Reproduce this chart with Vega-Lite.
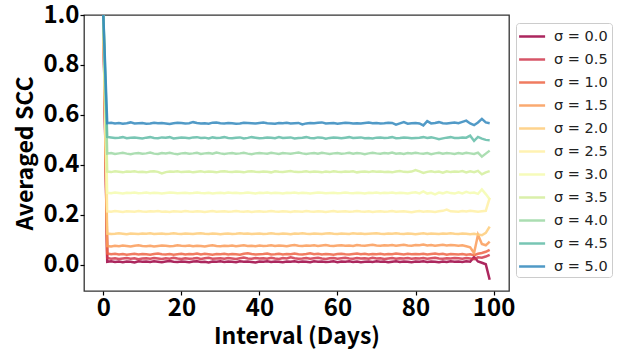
{
  "$schema": "https://vega.github.io/schema/vega-lite/v6.json",
  "width": 425,
  "height": 276,
  "autosize": {"type": "none"},
  "padding": {"left": 84, "top": 15, "right": 110, "bottom": 63},
  "background": "white",
  "config": {
    "view": {"stroke": "#333333", "strokeWidth": 1.3},
    "axis": {
      "grid": false, "domain": false, "tickColor": "black", "tickSize": 4, "tickWidth": 1.2,
      "labelFont": "Noto Sans CJK JP", "labelFontSize": 24, "labelFontWeight": "bold", "labelColor": "black",
      "titleFont": "Noto Sans CJK JP", "titleFontSize": 23, "titleFontWeight": "bold", "titleColor": "black"
    },
    "legend": {
      "orient": "none", "legendX": 432, "legendY": 8, "strokeColor": "#cccccc", "fillColor": "white",
      "padding": 4, "cornerRadius": 3, "symbolType": "M-1.3,0H1.95", "symbolSize": 256, "symbolStrokeWidth": 2.5,
      "rowPadding": 7, "labelOffset": 15, "labelFont": "DejaVu Sans", "labelFontSize": 14.5, "labelColor": "#222222"
    }
  },
  "data": {"values": [
    {"s": "σ = 0.0", "x": [0,1,2,3,4,5,6,7,8,9,10,11,12,13,14,15,16,17,18,19,20,21,22,23,24,25,26,27,28,29,30,31,32,33,34,35,36,37,38,39,40,41,42,43,44,45,46,47,48,49,50,51,52,53,54,55,56,57,58,59,60,61,62,63,64,65,66,67,68,69,70,71,72,73,74,75,76,77,78,79,80,81,82,83,84,85,86,87,88,89,90,91,92,93,94,95,96,97,98,99],
     "v": [1,0.012,0.014,0.011,0.013,0.010,0.013,0.012,0.009,0.014,0.012,0.013,0.011,0.014,0.012,0.010,0.013,0.015,0.012,0.011,0.013,0.012,0.010,0.013,0.014,0.011,0.012,0.009,0.013,0.012,0.014,0.011,0.013,0.012,0.010,0.014,0.012,0.013,0.011,0.009,0.013,0.012,0.014,0.011,0.013,0.012,0.010,0.013,0.012,0.014,0.011,0.013,0.012,0.010,0.014,0.012,0.013,0.011,0.012,0.014,0.010,0.013,0.012,0.014,0.011,0.013,0.010,0.012,0.013,0.011,0.014,0.012,0.013,0.010,0.012,0.014,0.011,0.013,0.012,0.010,0.013,0.012,0.014,0.011,0.013,0.012,0.010,0.013,0.011,0.014,0.012,0.013,0.011,0.014,0.012,0.031,0.013,0.008,0.002,-0.060]},
    {"s": "σ = 0.5", "x": [0,1,2,3,4,5,6,7,8,9,10,11,12,13,14,15,16,17,18,19,20,21,22,23,24,25,26,27,28,29,30,31,32,33,34,35,36,37,38,39,40,41,42,43,44,45,46,47,48,49,50,51,52,53,54,55,56,57,58,59,60,61,62,63,64,65,66,67,68,69,70,71,72,73,74,75,76,77,78,79,80,81,82,83,84,85,86,87,88,89,90,91,92,93,94,95,96,97,98,99],
     "v": [1,0.027,0.024,0.026,0.023,0.025,0.027,0.024,0.026,0.022,0.025,0.026,0.024,0.027,0.025,0.023,0.026,0.024,0.028,0.025,0.023,0.026,0.024,0.025,0.027,0.023,0.026,0.028,0.024,0.025,0.026,0.024,0.027,0.025,0.023,0.026,0.029,0.025,0.024,0.027,0.025,0.026,0.024,0.028,0.025,0.023,0.027,0.025,0.030,0.026,0.024,0.025,0.027,0.024,0.026,0.028,0.025,0.023,0.026,0.027,0.024,0.026,0.028,0.025,0.024,0.027,0.025,0.026,0.024,0.028,0.025,0.026,0.023,0.025,0.027,0.024,0.026,0.025,0.027,0.024,0.026,0.025,0.027,0.024,0.026,0.028,0.025,0.024,0.026,0.025,0.027,0.026,0.024,0.027,0.025,0.022,0.030,0.028,0.033,0.040]},
    {"s": "σ = 1.0", "x": [0,1,2,3,4,5,6,7,8,9,10,11,12,13,14,15,16,17,18,19,20,21,22,23,24,25,26,27,28,29,30,31,32,33,34,35,36,37,38,39,40,41,42,43,44,45,46,47,48,49,50,51,52,53,54,55,56,57,58,59,60,61,62,63,64,65,66,67,68,69,70,71,72,73,74,75,76,77,78,79,80,81,82,83,84,85,86,87,88,89,90,91,92,93,94,95,96,97,98,99],
     "v": [1,0.045,0.042,0.044,0.041,0.043,0.040,0.042,0.044,0.041,0.043,0.042,0.040,0.043,0.045,0.042,0.041,0.043,0.040,0.042,0.044,0.041,0.043,0.042,0.045,0.041,0.044,0.042,0.040,0.043,0.042,0.044,0.041,0.043,0.042,0.040,0.044,0.046,0.043,0.041,0.042,0.043,0.045,0.041,0.042,0.044,0.041,0.043,0.042,0.045,0.042,0.041,0.043,0.046,0.042,0.044,0.041,0.043,0.042,0.040,0.043,0.044,0.042,0.041,0.043,0.045,0.042,0.044,0.041,0.043,0.042,0.044,0.041,0.043,0.042,0.045,0.043,0.041,0.044,0.042,0.043,0.042,0.044,0.041,0.043,0.045,0.042,0.044,0.040,0.043,0.042,0.041,0.043,0.040,0.042,0.038,0.044,0.047,0.052,0.060]},
    {"s": "σ = 1.5", "x": [0,1,2,3,4,5,6,7,8,9,10,11,12,13,14,15,16,17,18,19,20,21,22,23,24,25,26,27,28,29,30,31,32,33,34,35,36,37,38,39,40,41,42,43,44,45,46,47,48,49,50,51,52,53,54,55,56,57,58,59,60,61,62,63,64,65,66,67,68,69,70,71,72,73,74,75,76,77,78,79,80,81,82,83,84,85,86,87,88,89,90,91,92,93,94,95,96,97,98,99],
     "v": [1,0.075,0.073,0.076,0.074,0.077,0.075,0.073,0.076,0.078,0.075,0.074,0.076,0.073,0.075,0.077,0.076,0.074,0.075,0.078,0.076,0.075,0.077,0.074,0.076,0.075,0.073,0.076,0.078,0.075,0.074,0.076,0.075,0.077,0.074,0.076,0.078,0.075,0.076,0.074,0.077,0.075,0.076,0.078,0.075,0.077,0.076,0.074,0.077,0.079,0.076,0.075,0.077,0.076,0.078,0.075,0.077,0.079,0.076,0.075,0.077,0.078,0.076,0.077,0.075,0.079,0.077,0.076,0.078,0.080,0.077,0.076,0.078,0.077,0.079,0.076,0.078,0.080,0.077,0.076,0.079,0.078,0.081,0.077,0.079,0.076,0.078,0.080,0.077,0.079,0.078,0.076,0.078,0.074,0.070,0.047,0.120,0.083,0.078,0.093]},
    {"s": "σ = 2.0", "x": [0,1,2,3,4,5,6,7,8,9,10,11,12,13,14,15,16,17,18,19,20,21,22,23,24,25,26,27,28,29,30,31,32,33,34,35,36,37,38,39,40,41,42,43,44,45,46,47,48,49,50,51,52,53,54,55,56,57,58,59,60,61,62,63,64,65,66,67,68,69,70,71,72,73,74,75,76,77,78,79,80,81,82,83,84,85,86,87,88,89,90,91,92,93,94,95,96,97,98,99],
     "v": [1,0.125,0.123,0.124,0.126,0.124,0.122,0.125,0.124,0.123,0.125,0.124,0.126,0.123,0.124,0.125,0.123,0.124,0.126,0.124,0.123,0.125,0.124,0.123,0.125,0.126,0.124,0.123,0.125,0.124,0.122,0.124,0.125,0.123,0.124,0.126,0.124,0.125,0.123,0.124,0.125,0.123,0.124,0.126,0.124,0.123,0.125,0.124,0.122,0.125,0.124,0.126,0.124,0.123,0.125,0.124,0.123,0.125,0.126,0.124,0.123,0.125,0.124,0.123,0.126,0.124,0.125,0.123,0.124,0.125,0.126,0.124,0.123,0.125,0.124,0.126,0.124,0.123,0.125,0.124,0.122,0.124,0.126,0.123,0.125,0.124,0.123,0.125,0.124,0.126,0.124,0.123,0.125,0.124,0.122,0.124,0.121,0.118,0.128,0.153]},
    {"s": "σ = 2.5", "x": [0,1,2,3,4,5,6,7,8,9,10,11,12,13,14,15,16,17,18,19,20,21,22,23,24,25,26,27,28,29,30,31,32,33,34,35,36,37,38,39,40,41,42,43,44,45,46,47,48,49,50,51,52,53,54,55,56,57,58,59,60,61,62,63,64,65,66,67,68,69,70,71,72,73,74,75,76,77,78,79,80,81,82,83,84,85,86,87,88,89,90,91,92,93,94,95,96,97,98,99],
     "v": [1,0.214,0.212,0.215,0.213,0.211,0.214,0.213,0.212,0.215,0.213,0.212,0.214,0.213,0.215,0.212,0.213,0.211,0.214,0.213,0.212,0.215,0.213,0.212,0.214,0.213,0.211,0.213,0.215,0.212,0.213,0.214,0.212,0.213,0.215,0.213,0.212,0.214,0.211,0.213,0.214,0.212,0.213,0.215,0.213,0.212,0.214,0.213,0.211,0.214,0.213,0.212,0.215,0.213,0.212,0.214,0.213,0.211,0.213,0.215,0.212,0.213,0.214,0.212,0.213,0.215,0.213,0.212,0.214,0.211,0.213,0.214,0.212,0.213,0.215,0.212,0.213,0.214,0.212,0.210,0.213,0.215,0.212,0.214,0.213,0.211,0.214,0.216,0.221,0.214,0.213,0.212,0.215,0.213,0.216,0.214,0.212,0.214,0.216,0.268]},
    {"s": "σ = 3.0", "x": [0,1,2,3,4,5,6,7,8,9,10,11,12,13,14,15,16,17,18,19,20,21,22,23,24,25,26,27,28,29,30,31,32,33,34,35,36,37,38,39,40,41,42,43,44,45,46,47,48,49,50,51,52,53,54,55,56,57,58,59,60,61,62,63,64,65,66,67,68,69,70,71,72,73,74,75,76,77,78,79,80,81,82,83,84,85,86,87,88,89,90,91,92,93,94,95,96,97,98,99],
     "v": [1,0.288,0.286,0.289,0.287,0.285,0.288,0.287,0.289,0.286,0.287,0.289,0.286,0.288,0.287,0.285,0.287,0.289,0.288,0.286,0.287,0.288,0.286,0.287,0.289,0.287,0.286,0.288,0.285,0.287,0.288,0.286,0.289,0.287,0.288,0.286,0.287,0.289,0.287,0.285,0.288,0.287,0.289,0.286,0.288,0.287,0.285,0.288,0.287,0.289,0.286,0.288,0.287,0.285,0.287,0.289,0.288,0.286,0.287,0.288,0.286,0.287,0.289,0.287,0.286,0.288,0.287,0.285,0.288,0.287,0.289,0.286,0.288,0.287,0.289,0.286,0.288,0.287,0.285,0.288,0.290,0.286,0.294,0.285,0.288,0.282,0.289,0.286,0.291,0.287,0.285,0.290,0.286,0.292,0.287,0.289,0.284,0.302,0.283,0.262]},
    {"s": "σ = 3.5", "x": [0,1,2,3,4,5,6,7,8,9,10,11,12,13,14,15,16,17,18,19,20,21,22,23,24,25,26,27,28,29,30,31,32,33,34,35,36,37,38,39,40,41,42,43,44,45,46,47,48,49,50,51,52,53,54,55,56,57,58,59,60,61,62,63,64,65,66,67,68,69,70,71,72,73,74,75,76,77,78,79,80,81,82,83,84,85,86,87,88,89,90,91,92,93,94,95,96,97,98,99],
     "v": [1,0.373,0.371,0.374,0.372,0.370,0.373,0.372,0.374,0.371,0.372,0.370,0.373,0.374,0.372,0.366,0.371,0.373,0.372,0.374,0.371,0.372,0.373,0.370,0.372,0.374,0.371,0.373,0.372,0.370,0.373,0.374,0.372,0.371,0.373,0.372,0.370,0.373,0.374,0.372,0.371,0.373,0.372,0.370,0.374,0.372,0.371,0.373,0.375,0.372,0.371,0.372,0.374,0.371,0.373,0.372,0.370,0.373,0.371,0.374,0.372,0.371,0.373,0.372,0.374,0.370,0.372,0.373,0.371,0.374,0.372,0.373,0.371,0.372,0.370,0.373,0.375,0.372,0.371,0.373,0.379,0.374,0.368,0.372,0.374,0.371,0.373,0.369,0.374,0.371,0.373,0.372,0.375,0.370,0.374,0.371,0.376,0.362,0.370,0.375]},
    {"s": "σ = 4.0", "x": [0,1,2,3,4,5,6,7,8,9,10,11,12,13,14,15,16,17,18,19,20,21,22,23,24,25,26,27,28,29,30,31,32,33,34,35,36,37,38,39,40,41,42,43,44,45,46,47,48,49,50,51,52,53,54,55,56,57,58,59,60,61,62,63,64,65,66,67,68,69,70,71,72,73,74,75,76,77,78,79,80,81,82,83,84,85,86,87,88,89,90,91,92,93,94,95,96,97,98,99],
     "v": [1,0.445,0.447,0.444,0.446,0.448,0.445,0.443,0.446,0.447,0.445,0.446,0.449,0.445,0.444,0.447,0.446,0.448,0.445,0.443,0.446,0.447,0.445,0.446,0.448,0.444,0.446,0.447,0.445,0.449,0.446,0.444,0.446,0.447,0.445,0.446,0.448,0.445,0.443,0.446,0.447,0.446,0.445,0.448,0.446,0.444,0.447,0.446,0.445,0.447,0.449,0.446,0.444,0.446,0.447,0.445,0.448,0.446,0.444,0.446,0.447,0.445,0.446,0.448,0.445,0.447,0.446,0.443,0.446,0.448,0.446,0.445,0.447,0.446,0.449,0.445,0.446,0.444,0.447,0.446,0.448,0.446,0.445,0.447,0.443,0.446,0.448,0.445,0.447,0.446,0.444,0.447,0.445,0.448,0.446,0.444,0.449,0.433,0.445,0.457]},
    {"s": "σ = 4.5", "x": [0,1,2,3,4,5,6,7,8,9,10,11,12,13,14,15,16,17,18,19,20,21,22,23,24,25,26,27,28,29,30,31,32,33,34,35,36,37,38,39,40,41,42,43,44,45,46,47,48,49,50,51,52,53,54,55,56,57,58,59,60,61,62,63,64,65,66,67,68,69,70,71,72,73,74,75,76,77,78,79,80,81,82,83,84,85,86,87,88,89,90,91,92,93,94,95,96,97,98,99],
     "v": [1,0.512,0.510,0.508,0.509,0.511,0.507,0.509,0.510,0.508,0.506,0.509,0.511,0.508,0.507,0.510,0.509,0.511,0.506,0.508,0.510,0.509,0.507,0.510,0.511,0.508,0.509,0.506,0.510,0.508,0.509,0.511,0.508,0.507,0.509,0.510,0.506,0.508,0.511,0.509,0.507,0.508,0.510,0.509,0.507,0.511,0.508,0.509,0.510,0.506,0.508,0.509,0.511,0.508,0.507,0.510,0.509,0.505,0.508,0.510,0.509,0.507,0.509,0.511,0.508,0.509,0.510,0.507,0.508,0.506,0.509,0.510,0.508,0.509,0.511,0.507,0.508,0.510,0.509,0.507,0.508,0.509,0.511,0.508,0.510,0.507,0.503,0.506,0.509,0.511,0.508,0.508,0.510,0.509,0.517,0.496,0.512,0.505,0.500,0.499]},
    {"s": "σ = 5.0", "x": [0,1,2,3,4,5,6,7,8,9,10,11,12,13,14,15,16,17,18,19,20,21,22,23,24,25,26,27,28,29,30,31,32,33,34,35,36,37,38,39,40,41,42,43,44,45,46,47,48,49,50,51,52,53,54,55,56,57,58,59,60,61,62,63,64,65,66,67,68,69,70,71,72,73,74,75,76,77,78,79,80,81,82,83,84,85,86,87,88,89,90,91,92,93,94,95,96,97,98,99],
     "v": [1,0.567,0.569,0.566,0.568,0.565,0.567,0.570,0.566,0.567,0.568,0.565,0.566,0.569,0.567,0.568,0.566,0.564,0.567,0.569,0.568,0.566,0.567,0.571,0.568,0.566,0.567,0.565,0.569,0.570,0.567,0.566,0.568,0.567,0.565,0.566,0.569,0.568,0.567,0.566,0.568,0.570,0.567,0.566,0.565,0.568,0.567,0.569,0.566,0.567,0.568,0.562,0.566,0.568,0.567,0.569,0.570,0.566,0.567,0.568,0.565,0.567,0.569,0.568,0.566,0.567,0.566,0.568,0.570,0.567,0.568,0.566,0.567,0.569,0.568,0.561,0.566,0.571,0.565,0.567,0.568,0.566,0.558,0.575,0.566,0.568,0.571,0.567,0.566,0.568,0.570,0.567,0.572,0.577,0.566,0.559,0.570,0.584,0.570,0.567]}
  ]},
  "transform": [{"flatten": ["x", "v"]}],
  "mark": {"type": "line", "strokeWidth": 2.5, "opacity": 0.85, "clip": true},
  "encoding": {
    "x": {"field": "x", "type": "quantitative",
      "scale": {"domain": [-4.95, 103.95], "nice": false, "zero": false},
      "axis": {"values": [0, 20, 40, 60, 80, 100], "title": "Interval (Days)", "labelPadding": 1, "titlePadding": 5}},
    "y": {"field": "v", "type": "quantitative",
      "scale": {"domain": [-0.105, 1.0], "nice": false, "zero": false},
      "axis": {"values": [0, 0.2, 0.4, 0.6, 0.8, 1.0], "format": ".1f", "title": "Averaged SCC", "labelPadding": 1, "titlePadding": 5}},
    "color": {"field": "s", "type": "nominal",
      "scale": {"domain": ["σ = 0.0", "σ = 0.5", "σ = 1.0", "σ = 1.5", "σ = 2.0", "σ = 2.5", "σ = 3.0", "σ = 3.5", "σ = 4.0", "σ = 4.5", "σ = 5.0"],
        "range": ["#9e0142", "#d0384e", "#ee6445", "#fa9b58", "#fecc7a", "#fff0a5", "#f5fbaf", "#d4ee9c", "#9dd8a4", "#61bca7", "#3288bd"]},
      "legend": {"title": null}}
  }
}
